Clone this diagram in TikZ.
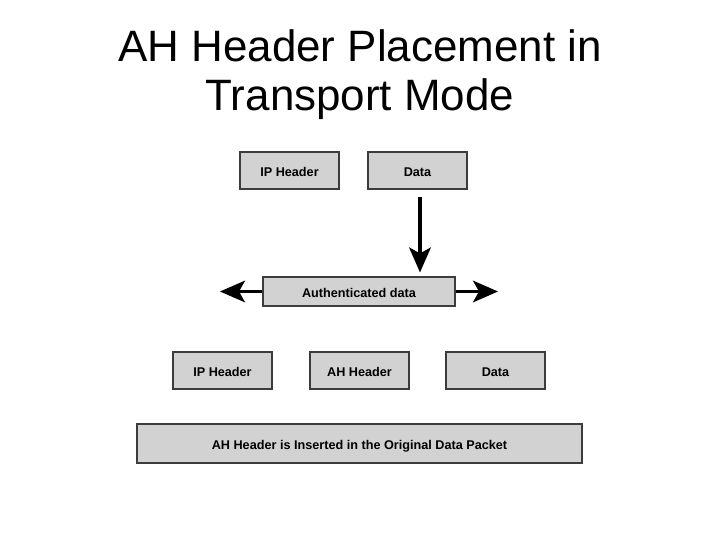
\documentclass[tikz,border=0pt]{standalone}
\usepackage{fontspec}
\setmainfont{Liberation Sans}
\usetikzlibrary{arrows.meta,positioning}
\definecolor{FieldGray}{RGB}{210,210,210}
\definecolor{EdgeGray}{RGB}{60,60,60}

\begin{document}
\begin{tikzpicture}[x=0.03cm, y=-0.03cm,
  field/.style={draw=EdgeGray, fill=FieldGray, line width=0.9pt, minimum width=2.97cm, minimum height=1.11cm, inner sep=0pt, text height=11pt, text depth=0pt, font=\bfseries\fontsize{10.8}{12}\selectfont},
  bigarrow/.style={line width=2.6pt, -{Stealth[length=7.5mm, width=6.5mm, inset=1.8mm]}}]
  \useasboundingbox (0,0) rectangle (720,540);

  % Title
  \node[font=\fontsize{37.5}{42}\selectfont, align=center] (title) at (360,75) {AH Header Placement in\\Transport Mode};

  % Original packet
  \node[field] (ipA) at (289.5,170.5) {IP Header};
  \node[field] (dataA) at (417.5,170.5) {Data};

  % Authenticated part
  \node[field, minimum width=5.76cm, minimum height=0.87cm] (auth) at (359,291.5) {Authenticated data};
  \coordinate (drop) at ([shift={(2.5,7)}]dataA.south);
  \draw[bigarrow] (drop) -- ([yshift=0.12cm]drop |- auth.north);
  \coordinate (leftend) at (220,291.5);
  \coordinate (rightend) at (498,291.5);
  \draw[bigarrow] (auth.west) -- (leftend);
  \draw[bigarrow] (auth.east) -- (rightend);

  % New packet
  \foreach \x/\name/\txt in {222.5/ipB/IP Header, 359.5/ahB/AH Header, 495.5/dataB/Data}{
    \node[field] (\name) at (\x,370.5) {\txt};
  }
  \node[field, minimum width=13.35cm, minimum height=1.17cm] (caption) at (359.5,443.5) {AH Header is Inserted in the Original Data Packet};
\end{tikzpicture}
\end{document}
